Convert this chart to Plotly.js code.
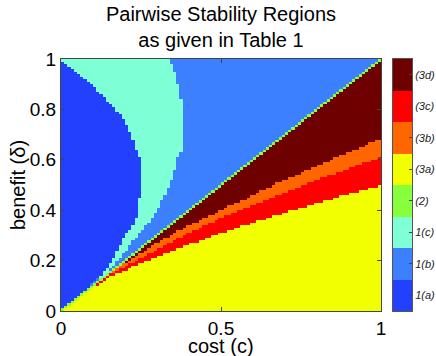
<!DOCTYPE html>
<html>
<head>
<meta charset="utf-8">
<script src="https://cdn.plot.ly/plotly-3.0.1.min.js"></script>
<style>
  body { margin: 0; background: #fff; }
  #chart { width: 436px; height: 356px; }
</style>
</head>
<body>
<div id="chart"></div>
<script>
// region names and colours, in colourbar order (1 = bottom)
var regionLabels = ['1(a)', '1(b)', '1(c)', '(2)', '(3a)', '(3b)', '(3c)', '(3d)'];
var regionCodes = [1, 2, 3, 4, 5, 6, 7, 8];
var regionColors = ['#2340ff', '#3d80ff', '#7fffd6', '#88ff3c', '#f2ff00', '#ff6600', '#ff0000', '#6e0000'];

var nCells = 100;

// upper triangle (benefit > cost): boundaries read as cost at a given benefit
var upperB   = [0, 0.08, 0.1, 0.12, 0.143, 0.183, 0.235, 0.29, 0.33, 0.36, 0.414, 0.48, 0.548, 0.6, 0.672, 0.725, 0.778, 0.83, 0.884, 0.937, 0.99, 1.0];
var edge1a   = [0.05, 0.09, 0.09, 0.107, 0.127, 0.153, 0.174, 0.195, 0.22, 0.233, 0.242, 0.247, 0.25, 0.247, 0.226, 0.21, 0.184, 0.148, 0.106, 0.06, 0.01, 0.0];
var cyanB    = [0, 0.12, 0.13, 0.156, 0.209, 0.262, 0.315, 0.335, 0.389, 0.44, 0.493, 0.546, 0.6, 0.64, 0.706, 0.77, 0.837, 0.9, 0.937, 0.96, 1.0];
var edge1c   = [0, 0.1, 0.12, 0.148, 0.184, 0.216, 0.247, 0.265, 0.294, 0.317, 0.335, 0.352, 0.362, 0.377, 0.38, 0.38, 0.375, 0.365, 0.361, 0.351, 0.34];

// lower triangle (benefit < cost): boundaries read as benefit at a given cost
var lowerC    = [0, 0.05, 0.1, 0.15, 0.2, 0.3, 0.4, 0.5, 0.6, 0.7, 0.8, 0.9, 1.0];
var top3a     = [0, 0.06, 0.092, 0.133, 0.162, 0.215, 0.264, 0.308, 0.35, 0.39, 0.428, 0.465, 0.5];
var top3c     = [0, 0.065, 0.097, 0.142, 0.178, 0.245, 0.31, 0.37, 0.42, 0.47, 0.52, 0.565, 0.61];
var top3b     = [0, 0.07, 0.1, 0.147, 0.19, 0.27, 0.34, 0.40, 0.46, 0.52, 0.575, 0.63, 0.685];

function lookup(xs, ys, v) {
  for (var k = 1; k < xs.length; k++) {
    if (v <= xs[k]) {
      var t = (v - xs[k-1]) / (xs[k] - xs[k-1]);
      return ys[k-1] + t * (ys[k] - ys[k-1]);
    }
  }
  return ys[ys.length - 1];
}

var xs = [], ys = [], z = [];
for (var i = 0; i < nCells; i++) {
  xs.push((i + 0.5) / nCells);
  ys.push((i + 0.5) / nCells);
}
for (var j = 0; j < nCells; j++) {
  var row = [];
  var b = ys[j];
  for (var i = 0; i < nCells; i++) {
    var c = xs[i];
    var v;
    if (i == j) {
      v = 4;
    } else if (j > i) {
      if (c < lookup(upperB, edge1a, b)) v = 1;
      else if (c < lookup(cyanB, edge1c, b)) v = 3;
      else v = 2;
    } else {
      if (b < lookup(lowerC, top3a, c)) v = 5;
      else if (b < lookup(lowerC, top3c, c)) v = 7;
      else if (b < lookup(lowerC, top3b, c)) v = 6;
      else v = 8;
    }
    row.push(v);
  }
  z.push(row);
}

var scale = [];
for (var k = 0; k < regionColors.length; k++) {
  scale.push([k / regionColors.length, regionColors[k]]);
  scale.push([(k + 1) / regionColors.length, regionColors[k]]);
}

var tickText = regionLabels.map(function(s) { return '<i>' + s + '</i>'; });

var mainMap = {
  type: 'heatmap',
  x: xs, y: ys, z: z,
  zmin: 0.5, zmax: 8.5,
  colorscale: scale,
  showscale: false,
  hoverinfo: 'skip'
};

// the colour key, drawn as a one-column heatmap on its own axes
var keyMap = {
  type: 'heatmap',
  x: [0],
  y: regionCodes,
  z: regionCodes.map(function(v) { return [v]; }),
  zmin: 0.5, zmax: 8.5,
  colorscale: scale,
  showscale: false,
  hoverinfo: 'skip',
  xaxis: 'x2',
  yaxis: 'y2'
};

var tickFont = { family: 'Liberation Sans, Arial, sans-serif', size: 19, color: '#000' };
var labelFont = { family: 'Liberation Sans, Arial, sans-serif', size: 20, color: '#000' };
var pw = 436 - 61 - 5;

var layout = {
  width: 436,
  height: 356,
  margin: { l: 61, r: 5, t: 59, b: 45, autoexpand: false },
  paper_bgcolor: '#fff',
  plot_bgcolor: '#fff',
  font: tickFont,
  showlegend: false,
  title: {
    text: 'Pairwise Stability Regions<br>as given in Table 1',
    font: labelFont,
    x: 221 / 436,
    xanchor: 'center',
    yref: 'container',
    y: 0.942,
    yanchor: 'top'
  },
  xaxis: {
    domain: [0, 320 / pw],
    range: [0, 1],
    tickvals: [0, 0.5, 1],
    ticktext: ['0', '0.5', '1'],
    ticks: 'inside',
    ticklen: 4,
    tickcolor: '#444',
    showline: true,
    linecolor: '#444',
    linewidth: 1,
    mirror: 'ticks',
    showgrid: false,
    zeroline: false,
    automargin: false,
    tickfont: tickFont
  },
  yaxis: {
    range: [0, 1],
    tickvals: [0, 0.2, 0.4, 0.6, 0.8, 1],
    ticktext: ['0', '0.2', '0.4', '0.6', '0.8', '1'],
    ticks: 'inside',
    ticklen: 4,
    tickcolor: '#444',
    showline: true,
    linecolor: '#444',
    linewidth: 1,
    mirror: 'ticks',
    showgrid: false,
    zeroline: false,
    automargin: false,
    tickfont: tickFont
  },
  xaxis2: {
    domain: [332 / pw, 351 / pw],
    anchor: 'y2',
    range: [-0.5, 0.5],
    showticklabels: false,
    ticks: '',
    showgrid: false,
    zeroline: false,
    showline: true,
    mirror: true,
    linecolor: '#555',
    linewidth: 1,
    automargin: false
  },
  yaxis2: {
    anchor: 'x2',
    side: 'right',
    range: [0.5, 8.5],
    tickvals: regionCodes,
    ticktext: tickText,
    ticks: 'inside',
    ticklen: 3,
    tickcolor: '#444',
    showgrid: false,
    zeroline: false,
    showline: true,
    mirror: true,
    linecolor: '#555',
    linewidth: 1,
    automargin: false,
    tickfont: { family: 'Liberation Sans, Arial, sans-serif', size: 11, color: '#222' }
  },
  annotations: [
    {
      text: 'cost (c)', font: labelFont, showarrow: false,
      xref: 'paper', yref: 'paper', x: 160 / pw, y: -(346 - 311) / 252,
      xanchor: 'center', yanchor: 'middle'
    },
    {
      text: 'benefit (δ)', font: labelFont, showarrow: false, textangle: -90,
      xref: 'paper', yref: 'paper', x: (18 - 61) / pw, y: 0.5,
      xanchor: 'center', yanchor: 'middle'
    }
  ]
};

Plotly.newPlot('chart', [mainMap, keyMap], layout, { displayModeBar: false, staticPlot: true });
</script>
</body>
</html>
